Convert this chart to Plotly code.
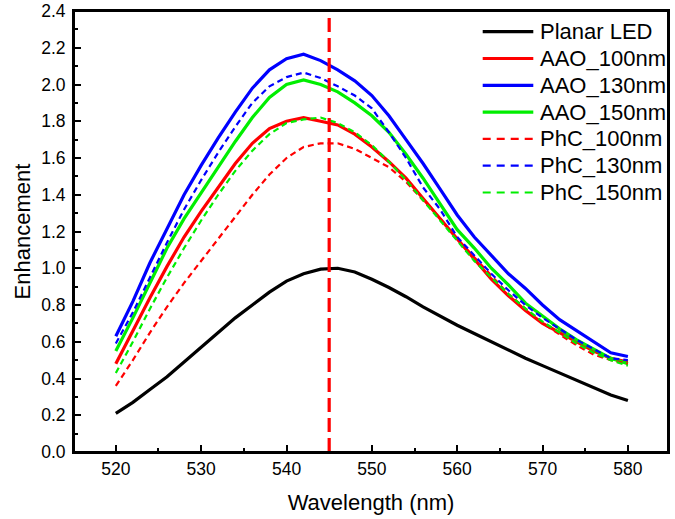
import plotly.graph_objects as go

wavelength = list(range(520, 581, 2))

planar_led = [0.21, 0.27, 0.34, 0.41, 0.49, 0.57, 0.65, 0.73, 0.80, 0.87, 0.93, 0.97, 0.995, 1.00, 0.98,
              0.94, 0.895, 0.845, 0.79, 0.74, 0.69, 0.645, 0.60, 0.555, 0.51, 0.47, 0.43, 0.39, 0.35, 0.31, 0.28]
aao_100 = [0.48, 0.66, 0.84, 1.01, 1.17, 1.31, 1.44, 1.57, 1.68, 1.76, 1.80, 1.82, 1.80, 1.78, 1.73,
           1.66, 1.58, 1.49, 1.38, 1.27, 1.16, 1.05, 0.94, 0.85, 0.77, 0.70, 0.65, 0.60, 0.55, 0.51, 0.49]
aao_130 = [0.63, 0.82, 1.03, 1.22, 1.40, 1.56, 1.71, 1.85, 1.98, 2.08, 2.14, 2.165, 2.13, 2.08, 2.02,
           1.94, 1.83, 1.70, 1.57, 1.43, 1.29, 1.17, 1.07, 0.97, 0.89, 0.80, 0.72, 0.66, 0.60, 0.54, 0.52]
aao_150 = [0.55, 0.73, 0.92, 1.11, 1.27, 1.41, 1.55, 1.69, 1.82, 1.93, 2.00, 2.025, 2.00, 1.96, 1.90,
           1.83, 1.74, 1.62, 1.49, 1.35, 1.21, 1.11, 1.00, 0.91, 0.81, 0.74, 0.67, 0.61, 0.56, 0.51, 0.48]
phc_100 = [0.36, 0.50, 0.65, 0.79, 0.92, 1.04, 1.16, 1.28, 1.40, 1.51, 1.60, 1.66, 1.68, 1.68, 1.65,
           1.60, 1.55, 1.47, 1.37, 1.27, 1.16, 1.06, 0.96, 0.86, 0.78, 0.70, 0.64, 0.58, 0.53, 0.50, 0.48]
phc_130 = [0.59, 0.76, 0.95, 1.14, 1.32, 1.48, 1.63, 1.77, 1.90, 1.99, 2.04, 2.065, 2.035, 1.99, 1.94,
           1.87, 1.74, 1.60, 1.44, 1.32, 1.17, 1.07, 0.97, 0.88, 0.80, 0.73, 0.67, 0.61, 0.56, 0.51, 0.50]
phc_150 = [0.43, 0.60, 0.78, 0.95, 1.11, 1.26, 1.40, 1.53, 1.64, 1.73, 1.79, 1.81, 1.82, 1.79, 1.74,
           1.67, 1.58, 1.48, 1.37, 1.26, 1.15, 1.04, 0.95, 0.86, 0.78, 0.71, 0.65, 0.59, 0.54, 0.50, 0.47]

marker_wavelength = 545

series = [
    ("Planar LED", planar_led, "#000000", "solid", 3.2),
    ("AAO_100nm", aao_100, "#ff0000", "solid", 3.2),
    ("AAO_130nm", aao_130, "#0000ff", "solid", 3.2),
    ("AAO_150nm", aao_150, "#00ee00", "solid", 3.2),
    ("PhC_100nm", phc_100, "#ff0000", "6px,4px", 2.2),
    ("PhC_130nm", phc_130, "#0000ff", "6px,4px", 2.2),
    ("PhC_150nm", phc_150, "#00ee00", "6px,4px", 2.2),
]

FONT = "Liberation Sans, Arial, sans-serif"
W, H = 675, 519
ML, MR, MT, MB = 74, 7, 11, 67
PW, PH = W - ML - MR, H - MT - MB

fig = go.Figure()
for name, vals, color, dash, w in series:
    fig.add_trace(go.Scatter(x=wavelength, y=vals, mode="lines", name=name, showlegend=False,
                             line=dict(color=color, dash=dash, width=w)))

fig.add_vline(x=marker_wavelength, line=dict(color="#ff0000", width=3.2, dash="14px,6px"))

# frame box around the plot area
fig.add_shape(type="rect", xref="paper", yref="paper", x0=0, x1=1, y0=0, y1=1,
              line=dict(color="black", width=2), fillcolor="rgba(0,0,0,0)", layer="above")

# Legend drawn as sample lines + text (no frame, like the original); positions in plot-area pixels
leg_px0, leg_px1, leg_ptx = 408.7, 459.3, 464.0
leg_py0, leg_dy = 20.7, 26.8
for i, (name, vals, color, dash, w) in enumerate(series):
    yy = 1 - (leg_py0 + i * leg_dy) / PH
    ldash = "8px,6px" if dash != "solid" else "solid"
    fig.add_shape(type="line", xref="paper", yref="paper", x0=leg_px0 / PW, x1=leg_px1 / PW, y0=yy, y1=yy,
                  line=dict(color=color, width=w, dash=ldash))
    fig.add_annotation(xref="paper", yref="paper", x=leg_ptx / PW, y=yy, text=name, showarrow=False,
                       xanchor="left", yanchor="middle",
                       font=dict(family=FONT, size=22, color="black"))

axis_common = dict(showline=True, linecolor="black", linewidth=2, mirror=True,
                   ticks="inside", tickcolor="black", tickwidth=2, ticklen=7,
                   showgrid=False, zeroline=False, automargin=False, ticklabeloverflow="allow",
                   tickfont=dict(family=FONT, size=17.5, color="black"))

fig.update_xaxes(range=[515.1, 584.7], tick0=520, dtick=10,
                 minor=dict(ticks="inside", dtick=5, ticklen=4, tickwidth=2, tickcolor="black"),
                 title=dict(text="Wavelength (nm)", font=dict(family=FONT, size=22, color="black"), standoff=17),
                 **axis_common)
fig.update_yaxes(range=[0, 2.4], tick0=0, dtick=0.2, tickformat=".1f", ticklabelstandoff=3,
                 minor=dict(ticks="inside", dtick=0.1, ticklen=4, tickwidth=2, tickcolor="black"),
                 title=dict(text="Enhancement", font=dict(family=FONT, size=22, color="black"), standoff=4),
                 **axis_common)

fig.update_layout(
    width=W, height=H,
    margin=dict(l=ML, r=MR, t=MT, b=MB),
    plot_bgcolor="white", paper_bgcolor="white",
    showlegend=False,
)

# remove the browser's default 8px body margin so the figure fills the window exactly
fig.write_html("out.html", config={"displayModeBar": False},
               post_script="document.body.style.margin='0px';")
